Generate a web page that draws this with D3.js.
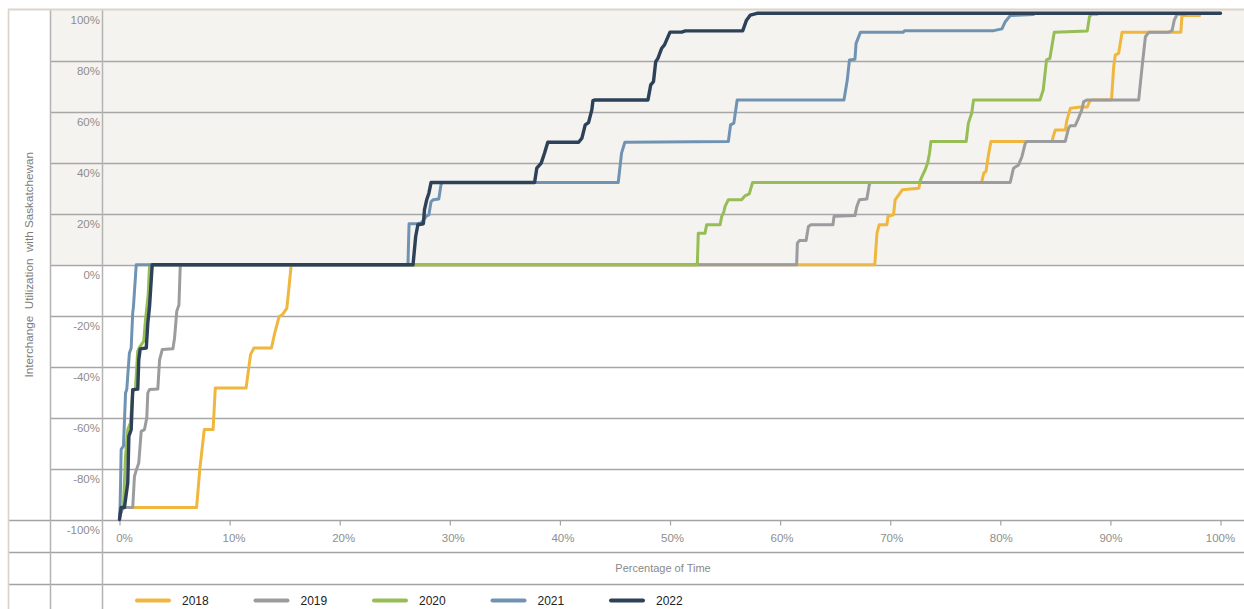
<!DOCTYPE html>
<html><head><meta charset="utf-8">
<script src="https://cdn.jsdelivr.net/npm/d3@7"></script>
<style>
body{margin:0;background:#fff;}
svg{display:block;font-family:"Liberation Sans",Arial,Helvetica,sans-serif;}
</style></head>
<body><svg id="chart" width="1244" height="609"></svg>
<script>
// ---- data ----
const years = ["2018","2019","2020","2021","2022"];
const xTicks = [0,10,20,30,40,50,60,70,80,90,100];
const yTicks = [-100,-80,-60,-40,-20,0,20,40,60,80,100];
const xTitle = "Percentage of Time";
const yTitle = "Interchange  Utilization  with Saskatchewan";

const s2018 = [[0,-99],[0.3,-95.3],[7.0,-95.3],[7.3,-80],[7.7,-64.7],[8.5,-64.7],[8.7,-48.4],[11.5,-48.4],[11.9,-35.3],[12.2,-32.7],[13.8,-32.7],[14.1,-26.8],[14.5,-20.3],[14.8,-19.6],[15.2,-17],[15.6,0],[68.6,0],[68.8,12.4],[69.0,15.7],[69.7,15.7],[69.8,19],[70.3,19.6],[70.45,25.5],[71.1,29.4],[72.6,30],[72.7,32.3],[78.3,32.3],[78.5,36],[78.7,36.6],[78.9,42.5],[79.15,48.4],[84.7,48.4],[84.8,50.3],[85.0,52.9],[85.9,52.9],[86.06,56.9],[86.36,61.4],[87.3,61.9],[87.9,61.9],[88.1,64.1],[88.3,64.7],[90.1,64.7],[90.3,77.8],[90.45,82.4],[90.75,83],[91.06,91.3],[96.4,91.3],[96.5,97.8],[98.1,97.8]];
const s2019 = [[0,-99],[0.3,-95.3],[1.2,-95.3],[1.36,-83],[1.5,-81],[1.75,-77.8],[1.97,-65.4],[2.27,-64.7],[2.48,-60],[2.57,-50.3],[2.73,-49],[3.48,-48.8],[3.64,-37.3],[3.88,-33.3],[4.85,-33],[5.0,-28.8],[5.2,-18.3],[5.4,-15.7],[5.52,0],[61.5,0],[61.57,8.5],[61.75,9.5],[62.36,9.5],[62.57,15],[62.8,15.7],[64.8,15.7],[64.9,19],[66.8,19.3],[66.97,22.9],[67.2,25.5],[67.88,25.8],[68.1,31.4],[68.2,32.3],[80.9,32.3],[81.2,37.9],[81.66,39.2],[81.97,42.5],[82.27,47.7],[82.4,48.4],[85.9,48.4],[86.2,53.6],[86.36,54.6],[86.8,54.6],[87.1,57.5],[87.4,60.8],[87.57,64],[87.9,64.7],[92.57,64.7],[92.88,77.8],[93.18,89.5],[93.5,91.3],[95.3,91.3],[95.6,91.9],[95.8,96],[96.06,98.3],[96.8,98.3]];
const s2020 = [[0,-99],[0.15,-95.3],[0.35,-95.3],[0.55,-75],[0.75,-64.7],[1.0,-62],[1.2,-50],[1.45,-48.6],[1.65,-34],[1.8,-32.5],[2.2,-30],[2.35,-22],[2.6,-12],[2.73,0],[52.48,0],[52.57,12.4],[53.18,12.4],[53.33,15.7],[54.55,15.7],[54.7,19],[54.9,20.9],[55.0,22.9],[55.3,25.5],[56.5,25.5],[56.8,27],[57.2,27.8],[57.5,32.3],[72.66,32.3],[72.88,34.6],[73.18,37.3],[73.4,39.9],[73.57,43.8],[73.7,48.4],[76.9,48.4],[77.1,55.6],[77.4,59.5],[77.57,64.7],[83.6,64.7],[83.9,68.6],[84.2,80.4],[84.5,81],[84.9,91.3],[87.9,91.8],[88.1,97.4],[88.3,98.3],[88.8,98.3]];
const s2021 = [[0,-99],[0.05,-95.3],[0.1,-85.6],[0.15,-72.5],[0.36,-71.2],[0.55,-50.3],[0.66,-49],[0.9,-34.6],[1.06,-32.7],[1.2,-19],[1.27,-16.3],[1.52,0],[26.2,0],[26.3,16.1],[26.97,16.1],[27.4,16.4],[27.9,19.2],[28.1,19.6],[28.3,24.8],[28.5,25.5],[29.0,25.8],[29.2,31.4],[29.3,32.3],[45.3,32.3],[45.6,43.8],[45.9,48.1],[55.3,48.4],[55.5,54.9],[55.8,55.6],[56.1,64.7],[65.8,64.7],[66.0,69.9],[66.1,72.5],[66.3,80.4],[66.8,80.7],[66.9,86.9],[67.3,91.3],[71.2,91.3],[71.3,91.9],[79.4,91.9],[80.15,92.6],[80.45,95.4],[80.9,97.8],[83.0,98.2]];
const s2022 = [[0,-100],[0.15,-95.3],[0.45,-95.3],[0.75,-85.6],[0.85,-67.3],[1.06,-64.7],[1.2,-49],[1.66,-48.8],[1.75,-37.3],[1.88,-33],[2.43,-32.7],[2.57,-22.9],[2.73,-16.3],[2.97,0],[26.66,0],[26.9,11.1],[27.1,15.7],[27.6,16.1],[27.7,21.6],[27.9,25.5],[28.1,28.1],[28.3,32.3],[37.7,32.3],[37.9,37.9],[38.3,39.9],[38.6,43.8],[38.9,48.1],[41.7,48.1],[42.0,49.7],[42.3,54.9],[42.6,55.8],[42.9,60.8],[43.0,64.4],[43.2,64.7],[48.0,64.7],[48.25,70.6],[48.5,71.9],[48.7,79.7],[48.9,81],[49.25,85],[49.5,86.3],[50.0,91.3],[51.06,91.3],[51.4,91.8],[56.6,91.8],[56.95,96],[57.3,98],[57.9,98.7],[100,98.7]];
const seriesValues = [s2018, s2019, s2020, s2021, s2022];

// ---- styles ----
const colors = ["#f0b73e","#9b9c9e","#97bd57","#7093b3","#2d4159"];
const W = 1244, H = 609;

const svg = d3.select("#chart");
const x = d3.scaleLinear().domain([0,100]).range([119.5,1220.5]);
const xLab = d3.scaleLinear().domain([0,100]).range([124.5,1220.5]);
const y = d3.scaleLinear().domain([-100,100]).range([519.5,10]);

// background panel (positive area)
svg.append("rect").attr("x",50).attr("y",y(100)).attr("width",W-50).attr("height",y(0)-y(100)).attr("fill","#f4f3ef");

// horizontal grid lines
svg.append("g").selectAll("line").data(yTicks.filter(d=>d>-100 && d<100)).join("line")
  .attr("x1",50).attr("x2",W).attr("y1",d=>Math.round(y(d))+0.5).attr("y2",d=>Math.round(y(d))+0.5)
  .attr("stroke","#a6a6a6").attr("stroke-width",1.3);
// bottom axis baseline and table rows
[y(-100), 551.5, 583.5].forEach(v=>{
  svg.append("line").attr("x1",8).attr("x2",W).attr("y1",Math.round(v)+0.5).attr("y2",Math.round(v)+0.5)
    .attr("stroke","#a3a3a3").attr("stroke-width",1.3);
});
// vertical table lines
[50.5,102.5].forEach(v=>{
  svg.append("line").attr("x1",v).attr("x2",v).attr("y1",9).attr("y2",H).attr("stroke","#b3b3b3").attr("stroke-width",1.5);
});
// outer frame (left & top)
svg.append("line").attr("x1",8.5).attr("x2",8.5).attr("y1",9).attr("y2",H).attr("stroke","#dbd2ca").attr("stroke-width",1.6);
svg.append("line").attr("x1",8).attr("x2",W).attr("y1",9.5).attr("y2",9.5).attr("stroke","#ddd4cc").attr("stroke-width",2);

// y tick labels
svg.append("g").selectAll("text").data(yTicks).join("text")
  .attr("x",100).attr("y",d=>y(d)+14).attr("text-anchor","end")
  .attr("font-size",11.5).attr("fill","#8e8e8e").text(d=>d+"%");

// x axis ticks
const xAxis = d3.axisBottom(x).tickValues(xTicks).tickSize(5).tickFormat("");
const gx = svg.append("g").attr("transform",`translate(0,${Math.round(y(-100))+0.5})`).call(xAxis);
gx.select(".domain").remove();
gx.selectAll(".tick line").attr("stroke","#a3a3a3").attr("stroke-width",1.2);
svg.append("g").selectAll("text").data(xTicks).join("text")
  .attr("x",d=>xLab(d)).attr("y",542).attr("text-anchor","middle")
  .attr("font-size",11.5).attr("fill","#8e8e8e").text(d=>d+"%");

// axis titles
svg.append("text").attr("x",663).attr("y",572).attr("text-anchor","middle")
  .attr("font-size",11).attr("fill","#8a8a8a").text(xTitle);
svg.append("text").attr("transform",`translate(33,${y(0)}) rotate(-90)`).attr("text-anchor","middle")
  .attr("font-size",11.7).attr("fill","#7a7a7a").style("white-space","pre").text(yTitle);

// series lines
const line = d3.line().x(d=>x(d[0])).y(d=>y(d[1]));
svg.append("g").selectAll("path").data(seriesValues).join("path")
  .attr("d",line).attr("fill","none")
  .attr("stroke",(d,i)=>colors[i]).attr("stroke-width",(d,i)=>i===4?3.4:3)
  .attr("stroke-linejoin","round").attr("stroke-linecap","round");

// legend
const lg = svg.append("g").selectAll("g").data(years).join("g")
  .attr("transform",(d,i)=>`translate(${137+i*118.5},600.5)`);
lg.append("line").attr("x1",0).attr("x2",32).attr("y1",0).attr("y2",0)
  .attr("stroke",(d,i)=>colors[i]).attr("stroke-width",4).attr("stroke-linecap","round");
lg.append("text").attr("x",45).attr("y",4.5).attr("font-size",12).attr("fill","#222").text(d=>d);
</script></body></html>
